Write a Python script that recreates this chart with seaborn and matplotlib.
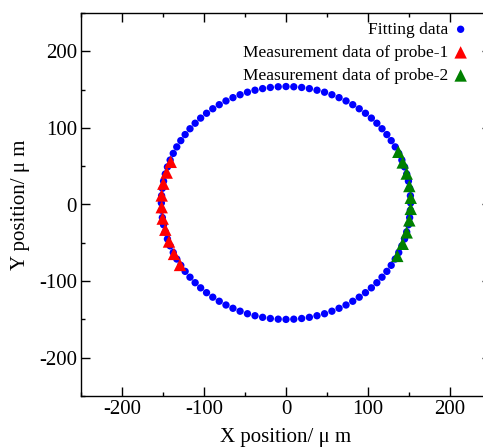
import matplotlib
matplotlib.use("Agg")
import matplotlib.pyplot as plt
import seaborn as sns
from matplotlib.ticker import MultipleLocator

# fitted circle (blue dots)
fit_x = [152.0, 151.7, 150.8, 149.3, 147.2, 144.6, 141.3, 137.5, 133.2, 128.3, 123.0, 117.1, 110.8,
         104.1, 96.9, 89.3, 81.4, 73.2, 64.7, 56.0, 47.0, 37.8, 28.5, 19.1, 9.5, 0.0,
         -9.5, -19.1, -28.5, -37.8, -47.0, -56.0, -64.7, -73.2, -81.4, -89.3, -96.9, -104.1, -110.8,
         -117.1, -123.0, -128.3, -133.2, -137.5, -141.3, -144.6, -147.2, -149.3, -150.8, -151.7, -152.0,
         -151.7, -150.8, -149.3, -147.2, -144.6, -141.3, -137.5, -133.2, -128.3, -123.0, -117.1, -110.8,
         -104.1, -96.9, -89.3, -81.4, -73.2, -64.7, -56.0, -47.0, -37.8, -28.5, -19.1, -9.5, 0.0,
         9.5, 19.1, 28.5, 37.8, 47.0, 56.0, 64.7, 73.2, 81.4, 89.3, 96.9, 104.1, 110.8,
         117.1, 123.0, 128.3, 133.2, 137.5, 141.3, 144.6, 147.2, 149.3, 150.8, 151.7]
fit_y = [2.0, 11.5, 21.1, 30.5, 39.8, 49.0, 58.0, 66.7, 75.2, 83.4, 91.3, 98.9, 106.1,
         112.8, 119.1, 125.0, 130.3, 135.2, 139.5, 143.3, 146.6, 149.2, 151.3, 152.8, 153.7, 154.0,
         153.7, 152.8, 151.3, 149.2, 146.6, 143.3, 139.5, 135.2, 130.3, 125.0, 119.1, 112.8, 106.1,
         98.9, 91.3, 83.4, 75.2, 66.7, 58.0, 49.0, 39.8, 30.5, 21.1, 11.5, 2.0,
         -7.5, -17.1, -26.5, -35.8, -45.0, -54.0, -62.7, -71.2, -79.4, -87.3, -94.9, -102.1,
         -108.8, -115.1, -121.0, -126.3, -131.2, -135.5, -139.3, -142.6, -145.2, -147.3, -148.8, -149.7, -150.0,
         -149.7, -148.8, -147.3, -145.2, -142.6, -139.3, -135.5, -131.2, -126.3, -121.0, -115.1, -108.8,
         -102.1, -94.9, -87.3, -79.4, -71.2, -62.7, -54.0, -45.0, -35.8, -26.5, -17.1, -7.5]

# probe-1 (red triangles)
p1_x = [-140.6, -145.5, -149.6, -151.6, -151.6, -150.4, -147.2, -142.7, -136.6, -129.3]
p1_y = [55.7, 41.7, 27.2, 11.8, -3.5, -18.4, -32.9, -48.3, -64.5, -78.9]

# probe-2 (green triangles)
p2_x = [137.0, 142.3, 147.2, 150.4, 152.1, 152.1, 150.4, 147.2, 142.3, 135.7]
p2_y = [68.8, 54.9, 40.4, 24.1, 8.8, -5.7, -20.7, -36.4, -51.3, -67.1]

sns.set_style("ticks")
plt.rcParams['font.family'] = ['Liberation Serif', 'DejaVu Serif']
plt.rcParams['axes.unicode_minus'] = False
plt.rcParams['axes.edgecolor'] = 'black'
plt.rcParams['xtick.color'] = 'black'
plt.rcParams['ytick.color'] = 'black'
plt.rcParams['axes.labelcolor'] = 'black'
plt.rcParams['text.color'] = 'black'

fig = plt.figure(figsize=(4.83, 4.48), dpi=100)
ax = fig.add_axes([81 / 483, 52 / 448, 410 / 483, 383 / 448])

sns.scatterplot(x=fit_x, y=fit_y, ax=ax, color='#0000ff', marker='o', s=28,
                edgecolor='none', label='Fitting data')
sns.scatterplot(x=p1_x, y=p1_y, ax=ax, color='#ff0000', marker='^', s=80,
                edgecolor='none', label='Measurement data of probe-1')
sns.scatterplot(x=p2_x, y=p2_y, ax=ax, color='#008000', marker='^', s=80,
                edgecolor='none', label='Measurement data of probe-2')

ax.set_xlim(-250, 250)
ax.set_ylim(-250, 250)
ax.xaxis.set_major_locator(MultipleLocator(100))
ax.xaxis.set_minor_locator(MultipleLocator(50))
ax.yaxis.set_major_locator(MultipleLocator(100))
ax.yaxis.set_minor_locator(MultipleLocator(50))
ax.tick_params(which='both', direction='in', top=True, right=True, labelsize=15, width=1)
ax.tick_params(which='major', length=6.5, pad=3)
ax.tick_params(which='minor', length=3.2)
for sp in ax.spines.values():
    sp.set_linewidth(1)

ax.set_xlabel('X position/ μ m', fontsize=15, labelpad=6)
ax.set_ylabel('Y position/ μ m', fontsize=15, labelpad=6)

ax.legend(loc='upper right', bbox_to_anchor=(478 / 483, 1 - 13 / 448),
          bbox_transform=fig.transFigure, frameon=False, markerfirst=False,
          fontsize=12.5, handletextpad=0.2, labelspacing=0.4, borderpad=0,
          handlelength=1.0)

fig.savefig('out.png', dpi=100)
